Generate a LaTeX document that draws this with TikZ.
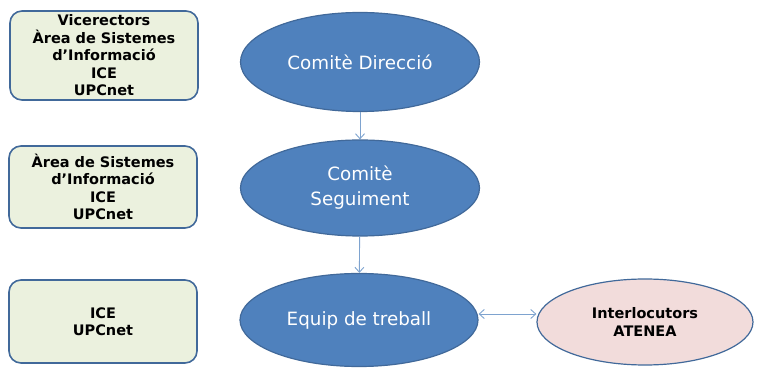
\documentclass[tikz,border=0pt]{standalone}
\usepackage{fontspec}
\setmainfont{DejaVu Sans}
\usetikzlibrary{shapes.geometric,arrows.meta}
\definecolor{boxfill}{HTML}{EBF1DE}
\definecolor{edge}{HTML}{41699A}
\definecolor{ellfill}{HTML}{4F81BD}
\definecolor{pinkfill}{HTML}{F2DCDB}
\definecolor{arrowc}{HTML}{7EA3CF}
\tikzset{
  infobox/.style={draw=edge, line width=1.6pt, fill=boxfill, rounded corners=12pt,
    minimum width=188pt, align=center, font=\fontsize{14.5}{17.5}\selectfont\bfseries, inner sep=0pt},
  blueell/.style={ellipse, draw=edge, line width=1.2pt, fill=ellfill, text=white,
    align=center, font=\fontsize{18.3}{25}\selectfont, inner sep=0pt},
  pinkell/.style={ellipse, draw=edge, line width=1.2pt, fill=pinkfill, text=black,
    align=center, font=\fontsize{14.5}{17.5}\selectfont\bfseries, inner sep=0pt},
  conn/.style={draw=arrowc, line width=0.9pt, -{Straight Barb[length=5pt,width=9pt]}},
  dconn/.style={draw=arrowc, line width=0.9pt, {Straight Barb[length=5pt,width=9pt]}-{Straight Barb[length=5pt,width=9pt]}}
}
\begin{document}
\begin{tikzpicture}[x=1pt,y=1pt]
\useasboundingbox (0,0) rectangle (757,369);
\node[infobox, minimum height=89pt] (b1) at (104,313.5)
  {Vicerectors\\Àrea de Sistemes\\d’Informació\\ICE\\UPCnet};
\node[infobox, minimum height=82pt] (b2) at (103,182)
  {Àrea de Sistemes\\d’Informació\\ICE\\UPCnet};
\node[infobox, minimum height=83pt] (b3) at (103,47.5)
  {ICE\\UPCnet};
\node[blueell, minimum width=239pt, minimum height=99pt] (e1) at (360,307) {Comitè Direcció};
\node[blueell, minimum width=239pt, minimum height=96pt] (e2) at (360,181) {Comitè\\Seguiment};
\node[blueell, minimum width=238pt, minimum height=93pt] (e3) at (359,49) {Equip de treball};
\node[pinkell, minimum width=216pt, minimum height=86pt] (e4) at (645,47) {Interlocutors\\ATENEA};
\draw[conn] (e1) -- (e2);
\draw[conn] (e2) -- (e3);
\draw[dconn] ([yshift=6pt]e3.east) -- ([yshift=6pt]e3.east -| e4.west);
\end{tikzpicture}
\end{document}
